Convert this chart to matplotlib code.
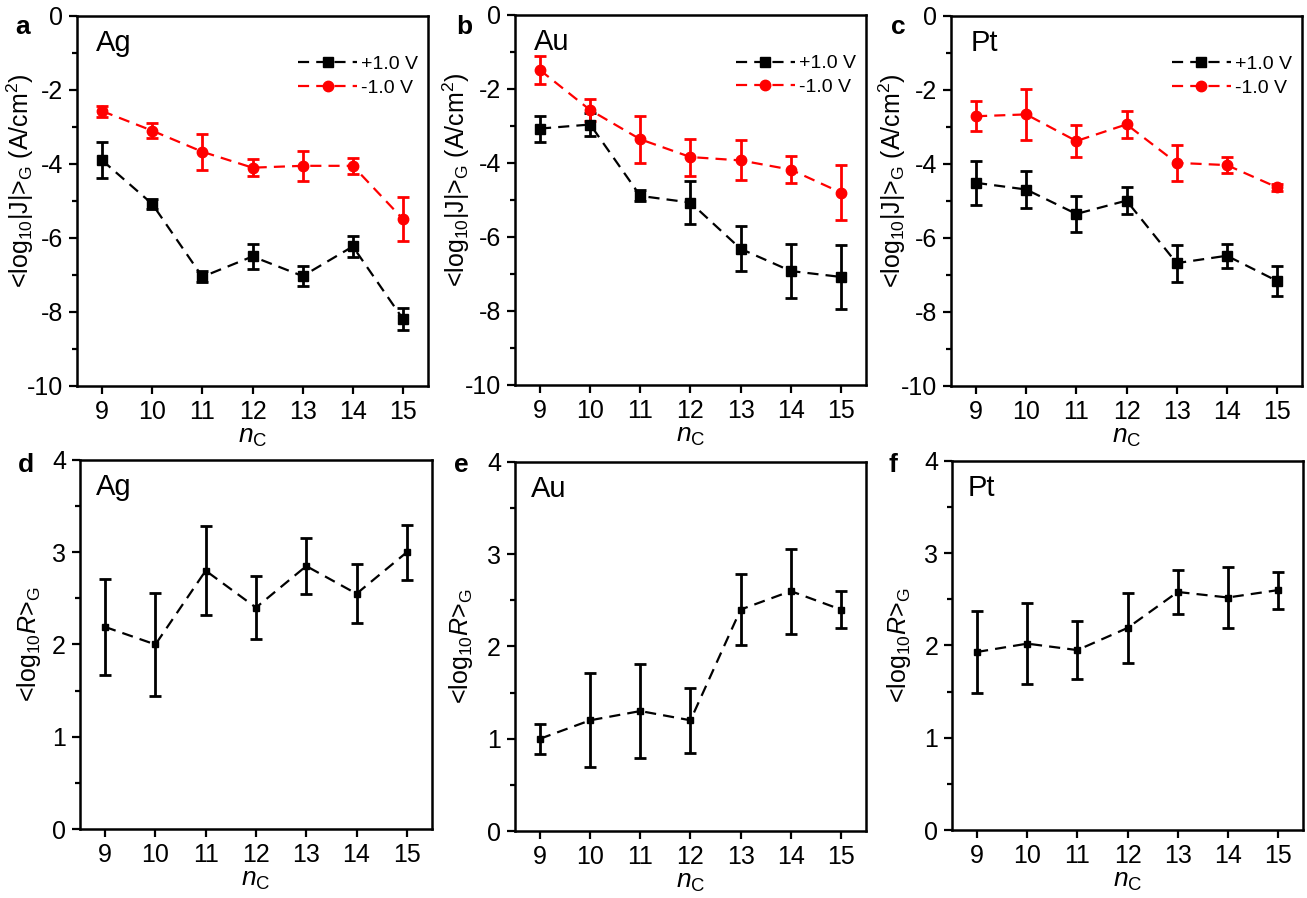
import matplotlib
matplotlib.use("Agg")
import matplotlib.pyplot as plt
from matplotlib.ticker import MultipleLocator

plt.rcParams["font.family"] = ["Liberation Sans", "DejaVu Sans"]
plt.rcParams["mathtext.fontset"] = "custom"
plt.rcParams["mathtext.rm"] = "Liberation Sans"
plt.rcParams["mathtext.it"] = "Liberation Sans:italic"
plt.rcParams["mathtext.bf"] = "Liberation Sans:bold"

n_c = [9, 10, 11, 12, 13, 14, 15]

# current density, +1.0 V (black) and -1.0 V (red)
ag_pos = [-3.9, -5.08, -7.05, -6.5, -7.03, -6.23, -8.19]
ag_pos_err = [0.49, 0.13, 0.15, 0.33, 0.28, 0.29, 0.3]
ag_neg = [-2.57, -3.1, -3.67, -4.1, -4.05, -4.05, -5.49]
ag_neg_err = [0.15, 0.2, 0.48, 0.23, 0.4, 0.21, 0.6]

au_pos = [-3.07, -2.96, -4.89, -5.07, -6.32, -6.92, -7.08]
au_pos_err = [0.35, 0.3, 0.15, 0.59, 0.61, 0.72, 0.87]
au_neg = [-1.49, -2.57, -3.36, -3.84, -3.93, -4.18, -4.8]
au_neg_err = [0.37, 0.29, 0.63, 0.5, 0.54, 0.37, 0.74]

pt_pos = [-4.51, -4.69, -5.35, -4.99, -6.68, -6.48, -7.16]
pt_pos_err = [0.6, 0.49, 0.49, 0.37, 0.5, 0.33, 0.4]
pt_neg = [-2.71, -2.66, -3.38, -2.93, -3.97, -4.03, -4.63]
pt_neg_err = [0.4, 0.68, 0.42, 0.36, 0.49, 0.21, 0.1]

# rectification ratio
ag_r = [2.19, 2.0, 2.8, 2.4, 2.85, 2.55, 3.0]
ag_r_err = [0.52, 0.56, 0.48, 0.34, 0.3, 0.32, 0.3]
au_r = [1.0, 1.2, 1.3, 1.2, 2.4, 2.6, 2.4]
au_r_err = [0.16, 0.51, 0.51, 0.35, 0.38, 0.46, 0.2]
pt_r = [1.93, 2.02, 1.95, 2.19, 2.58, 2.52, 2.6]
pt_r_err = [0.44, 0.44, 0.31, 0.38, 0.24, 0.33, 0.2]

metals = ["Ag", "Au", "Pt"]
letters_top = ["a", "b", "c"]
letters_bottom = ["d", "e", "f"]
j_series = [
    (ag_pos, ag_pos_err, ag_neg, ag_neg_err),
    (au_pos, au_pos_err, au_neg, au_neg_err),
    (pt_pos, pt_pos_err, pt_neg, pt_neg_err),
]
r_series = [(ag_r, ag_r_err), (au_r, au_r_err), (pt_r, pt_r_err)]

top_rects = [
    [0.0589, 0.5702, 0.2686, 0.412],
    [0.394, 0.5713, 0.2686, 0.412],
    [0.7276, 0.5702, 0.2686, 0.412],
]
bottom_rects = [
    [0.0612, 0.0768, 0.2693, 0.411],
    [0.394, 0.0746, 0.2686, 0.411],
    [0.7284, 0.0757, 0.2686, 0.411],
]
top_label_x = [-0.118, -0.122, -0.122]
bottom_label_x = [-0.105, -0.114, -0.111]
top_letter_pos = [(0.012, 0.983), (0.349, 0.983), (0.682, 0.983)]
bottom_letter_pos = [(0.014, 0.495), (0.347, 0.495), (0.680, 0.495)]

TICK_SIZE = 18
DASHES = (5.0, 3.2)


def style_axis(axis):
    for spine in axis.spines.values():
        spine.set_linewidth(1.8)
    axis.tick_params(which="both", direction="out", top=False, right=False,
                     width=1.6, labelsize=TICK_SIZE)
    axis.tick_params(which="major", length=6, pad=4)
    axis.tick_params(which="minor", length=3.5)
    axis.set_xlim(8.5, 15.5)
    axis.set_xticks(n_c)
    axis.set_xlabel(r"$\it{n}$$_{\rm C}$", fontsize=19, labelpad=1)


def draw_series(axis, values, errors, color, marker, size, label=None):
    line = axis.errorbar(
        n_c, values, yerr=errors, color=color, ecolor=color,
        marker=marker, markersize=size, linestyle="--", linewidth=1.6,
        elinewidth=2.0, capsize=4, capthick=2.0, label=label,
    )
    line[0].set_dashes(DASHES)
    return line


figure = plt.figure(figsize=(13.07, 8.98), dpi=100)

for index, metal in enumerate(metals):
    axis = figure.add_axes(top_rects[index])
    style_axis(axis)
    pos, pos_err, neg, neg_err = j_series[index]
    draw_series(axis, pos, pos_err, "black", "s", 7, "+1.0 V")
    draw_series(axis, neg, neg_err, "#ff0000", "o", 7.5, "-1.0 V")
    axis.set_ylim(-10, 0)
    axis.yaxis.set_major_locator(MultipleLocator(2))
    axis.yaxis.set_minor_locator(MultipleLocator(1))
    axis.set_yticklabels([f"{int(t)}" for t in axis.get_yticks()])
    axis.set_ylabel(r"<log$_{10}$|J|>$_{\rm G}$ (A/cm$^2$)", fontsize=18)
    axis.yaxis.set_label_coords(top_label_x[index], 0.555)
    axis.text(0.055, 0.965, metal, transform=axis.transAxes, fontsize=21, va="top")
    handles, labels = axis.get_legend_handles_labels()
    handles = [h[0] for h in handles]
    axis.legend(handles, labels, loc="upper right", frameon=False, fontsize=14,
                handlelength=3.0, handletextpad=0.2, labelspacing=0.3,
                bbox_to_anchor=(1.02, 0.94))
    figure.text(*top_letter_pos[index], letters_top[index], fontsize=19,
                fontweight="bold", va="top")

for index, metal in enumerate(metals):
    axis = figure.add_axes(bottom_rects[index])
    style_axis(axis)
    values, errors = r_series[index]
    draw_series(axis, values, errors, "black", "s", 5)
    axis.set_ylim(0, 4)
    axis.yaxis.set_major_locator(MultipleLocator(1))
    axis.yaxis.set_minor_locator(MultipleLocator(0.5))
    axis.set_ylabel(r"<log$_{10}$$\it{R}$>$_{\rm G}$", fontsize=18)
    axis.yaxis.set_label_coords(bottom_label_x[index], 0.5)
    axis.text(0.045, 0.965, metal, transform=axis.transAxes, fontsize=21, va="top")
    figure.text(*bottom_letter_pos[index], letters_bottom[index], fontsize=19,
                fontweight="bold", va="top")

figure.savefig("out.png", dpi=100, facecolor="white")
plt.close(figure)
